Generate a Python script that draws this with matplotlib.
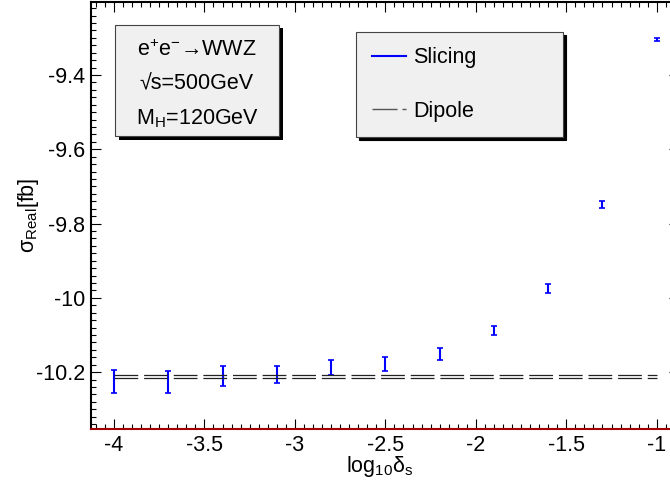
import matplotlib
matplotlib.use("Agg")
import matplotlib.pyplot as plt
from matplotlib.lines import Line2D
from matplotlib.patches import Rectangle
from matplotlib.ticker import MultipleLocator

plt.rcParams['font.family'] = ['Liberation Sans', 'DejaVu Sans']
plt.rcParams['mathtext.fontset'] = 'custom'
plt.rcParams['mathtext.rm'] = 'Liberation Sans'
plt.rcParams['mathtext.it'] = 'Liberation Sans:italic'
plt.rcParams['mathtext.bf'] = 'Liberation Sans:bold'

# slicing results
log_delta = [-4.0, -3.7, -3.4, -3.1, -2.8, -2.5, -2.2, -1.9, -1.6, -1.3, -1.0]
sigma_slicing = [-10.225, -10.226, -10.210, -10.207, -10.187, -10.179,
                 -10.151, -10.088, -9.975, -9.749, -9.304]
sigma_err = [0.032, 0.030, 0.027, 0.023, 0.021, 0.019,
             0.016, 0.013, 0.013, 0.009, 0.005]

# dipole result (central +- error)
dipole_value = -10.211
dipole_err = 0.004
dipole_range = [-4.0, -1.0]

info_lines = [r'e$^{+}$e$^{-}$→WWZ', '√s=500GeV', r'M$_{\mathrm{H}}$=120GeV']

fig = plt.figure(figsize=(6.7, 4.95), dpi=100)
ax = fig.add_axes([91/670, 66/495, 588/670, 427.5/495])

ax.errorbar(log_delta, sigma_slicing, yerr=sigma_err, fmt='none',
            ecolor='blue', elinewidth=1.5, capsize=2.5, capthick=1.2)

for s in (-1, 1):
    ax.plot(dipole_range, [dipole_value + s*dipole_err]*2, color='#222222',
            lw=0.9, dashes=(19, 4.7))

ax.set_xlim(-4.127, -0.877)
ax.set_ylim(-10.353, -9.202)

ax.xaxis.set_major_locator(MultipleLocator(0.5))
ax.xaxis.set_minor_locator(MultipleLocator(0.05))
ax.yaxis.set_major_locator(MultipleLocator(0.2))
ax.yaxis.set_minor_locator(MultipleLocator(0.02))
ax.xaxis.set_major_formatter(matplotlib.ticker.FuncFormatter(lambda v, p: f'{v:g}'))
ax.yaxis.set_major_formatter(matplotlib.ticker.FuncFormatter(lambda v, p: f'{v:g}'))

ax.tick_params(which='both', direction='in', top=True, right=True,
               labelsize=15.5, width=0.8)
ax.tick_params(which='major', length=7.2, pad=4)
ax.tick_params(which='minor', length=3.6, right=False)

for side in ('left', 'top'):
    ax.spines[side].set_linewidth(1.5)
ax.spines['bottom'].set_color('#a00000')
ax.spines['bottom'].set_linewidth(1.5)

ax.set_xlabel(r'log$_{10}$δ$_{\mathrm{s}}$', fontsize=15.5)
ax.xaxis.set_label_coords(0.4915, -0.058)
ax.set_ylabel(r'σ$_{\mathrm{Real}}$[fb]', fontsize=15.5)
ax.yaxis.set_label_coords(-0.085, 0.5)

# info box with shadow
bx0, bx1, by0, by1 = 0.0408, 0.3197, 0.685, 0.945
ax.add_patch(Rectangle((bx0 + 0.006, by0 - 0.008), bx1 - bx0, by1 - by0,
                       transform=ax.transAxes, facecolor='black', zorder=5))
ax.add_patch(Rectangle((bx0, by0), bx1 - bx0, by1 - by0, transform=ax.transAxes,
                       facecolor='#f0f0f0', edgecolor='#444444', lw=0.8, zorder=6))
for i, line in enumerate(info_lines):
    ax.text((bx0 + bx1)/2, 0.886 - i*0.080, line, transform=ax.transAxes,
            ha='center', va='center', fontsize=15.5, zorder=7)

handles = [Line2D([], [], color='blue', lw=1.5),
           Line2D([], [], color='#555555', lw=1.0, dashes=(18, 3.6, 4, 30))]
leg = ax.legend(handles, ['Slicing', 'Dipole'], loc='upper left',
                bbox_to_anchor=(0.4507, 0.6877, 0.352, 0.241), mode='expand',
                borderaxespad=0, fontsize=15.5, fancybox=False, frameon=True,
                edgecolor='#444444', facecolor='#f0f0f0', framealpha=1,
                shadow={'color': 'black', 'alpha': 1}, labelspacing=1.5,
                handlelength=1.6, handletextpad=0.35, borderpad=0.72)
leg.get_frame().set_linewidth(0.8)

fig.savefig('out.png', dpi=100)
